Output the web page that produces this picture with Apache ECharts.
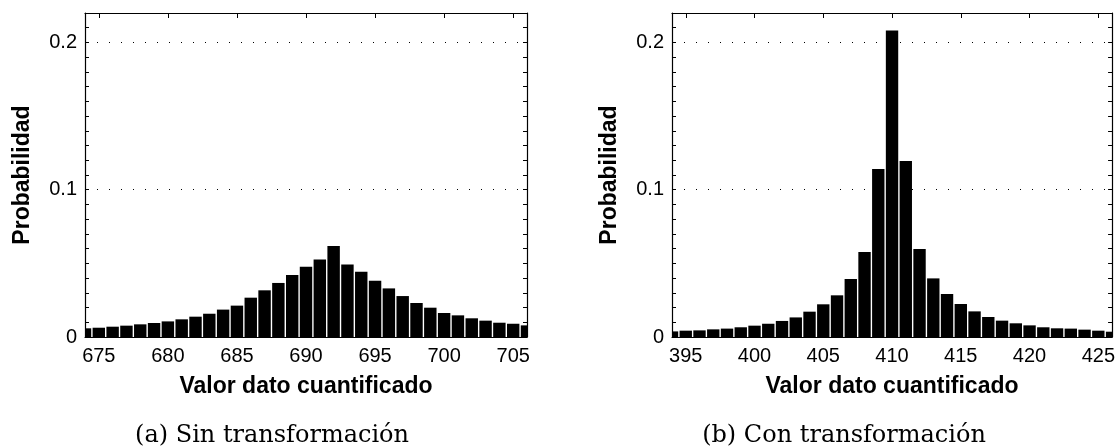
<!DOCTYPE html>
<html>
<head>
<meta charset="utf-8">
<script src="https://cdn.jsdelivr.net/npm/echarts@6/dist/echarts.min.js"></script>
<style>
html,body{margin:0;padding:0;background:#fff;}
#c{width:1118px;height:448px;}
</style>
</head>
<body>
<div id="c"></div>
<script>
// ---- data ----
const leftValues = [674,675,676,677,678,679,680,681,682,683,684,685,686,687,688,689,690,691,692,693,694,695,696,697,698,699,700,701,702,703,704,705,706];
const leftProb = [0.0059,0.0063,0.0070,0.0077,0.0086,0.0095,0.0106,0.0120,0.0138,0.0158,0.0186,0.0213,0.0267,0.0317,0.0367,0.0421,0.0477,0.0527,0.0618,0.0493,0.0443,0.0382,0.0330,0.0278,0.0231,0.0199,0.0163,0.0147,0.0127,0.0111,0.0097,0.0090,0.0079];
const rightValues = [394,395,396,397,398,399,400,401,402,403,404,405,406,407,408,409,410,411,412,413,414,415,416,417,418,419,420,421,422,423,424,425,426];
const rightProb = [0.0038,0.0043,0.0045,0.0052,0.0057,0.0066,0.0077,0.0090,0.0109,0.0133,0.0172,0.0222,0.0283,0.0394,0.0577,0.1140,0.2081,0.1195,0.0597,0.0398,0.0292,0.0224,0.0174,0.0136,0.0111,0.0093,0.0079,0.0066,0.0059,0.0057,0.0050,0.0043,0.0036];
const leftTicks = [675,680,685,690,695,700,705];
const rightTicks = [395,400,405,410,415,420,425];
const yLabelTicks = [0,0.1,0.2];
const xTitle = 'Valor dato cuantificado';
const yTitle = 'Probabilidad';
const captions = ['(a) Sin transformación','(b) Con transformación'];

const FONT = '"Liberation Sans", Arial, sans-serif';
const grids = [
  {left: 85, top: 13, width: 442, height: 324},
  {left: 672, top: 13, width: 442, height: 324}
];
const ranges = [[674,706],[394,426]];
const ticksets = [leftTicks, rightTicks];

const xAxes = [], yAxes = [], series = [];
grids.forEach((g, i) => {
  xAxes.push({
    type: 'value', gridIndex: i, position: 'bottom', min: ranges[i][0], max: ranges[i][1],
    name: xTitle, nameLocation: 'middle', nameGap: 38,
    nameTextStyle: {fontFamily: FONT, fontWeight: 'bold', fontSize: 23, color: '#000'},
    axisLine: {show: true, onZero: false, lineStyle: {color: '#000', width: 1.2}},
    axisTick: {show: true, inside: true, length: 5, customValues: ticksets[i], lineStyle: {color: '#000'}},
    axisLabel: {show: true, customValues: ticksets[i], margin: 9, fontFamily: FONT, fontSize: 20, color: '#000'},
    splitLine: {show: false}
  });
  xAxes.push({
    type: 'value', gridIndex: i, position: 'top', min: ranges[i][0], max: ranges[i][1],
    axisLine: {show: true, onZero: false, lineStyle: {color: '#000', width: 1.2}},
    axisTick: {show: true, inside: true, length: 5, customValues: ticksets[i], lineStyle: {color: '#000'}},
    axisLabel: {show: false},
    splitLine: {show: false}
  });
  // main left y axis with labels + dotted grid
  yAxes.push({
    type: 'value', gridIndex: i, position: 'left', min: 0, max: 0.22, interval: 0.1,
    name: yTitle, nameLocation: 'middle', nameGap: 51,
    nameTextStyle: {fontFamily: FONT, fontWeight: 'bold', fontSize: 23, color: '#000'},
    axisLine: {show: true, onZero: false, lineStyle: {color: '#000', width: 1.2}},
    axisTick: {show: false},
    axisLabel: {show: true, customValues: yLabelTicks, margin: 8, fontFamily: FONT, fontSize: 20, color: '#000',
      formatter: v => (v === 0 ? '0' : String(+v.toFixed(2)))},
    splitLine: {show: true, lineStyle: {color: '#000', width: 1, type: [1, 11]}}
  });
  // minor ticks left
  yAxes.push({
    type: 'value', gridIndex: i, position: 'left', min: 0, max: 0.22, interval: 0.01,
    axisLine: {show: false, onZero: false}, axisLabel: {show: false}, splitLine: {show: false},
    axisTick: {show: true, inside: true, length: 4, lineStyle: {color: '#000'}}
  });
  // right side
  yAxes.push({
    type: 'value', gridIndex: i, position: 'right', min: 0, max: 0.22, interval: 0.01,
    axisLine: {show: true, onZero: false, lineStyle: {color: '#000', width: 1.2}}, axisLabel: {show: false}, splitLine: {show: false},
    axisTick: {show: true, inside: true, length: 4, lineStyle: {color: '#000'}}
  });
});

function renderBar(params, api) {
  const x = api.value(0), y = api.value(1);
  const w = api.size([1, 0])[0] * 0.9;
  const base = api.coord([x, 0]);
  const top = api.coord([x, y]);
  return {
    type: 'rect',
    shape: {x: base[0] - w / 2, y: top[1], width: w, height: base[1] - top[1]},
    style: {fill: '#000'}
  };
}

const sets = [[leftValues, leftProb],[rightValues, rightProb]];
sets.forEach((s, i) => {
  series.push({
    type: 'custom', xAxisIndex: i*2, yAxisIndex: i*3, clip: true, silent: true, animation: false,
    renderItem: renderBar,
    encode: {x: 0, y: 1},
    data: s[0].map((x, k) => [x, s[1][k]])
  });
});

const chart = echarts.init(document.getElementById('c'), null, {renderer: 'canvas'});
chart.setOption({
  animation: false,
  backgroundColor: '#fff',
  grid: grids,
  xAxis: xAxes,
  yAxis: yAxes,
  series: series,
  graphic: [
    {type: 'text', x: 272, y: 436, style: {text: captions[0], font: '24px "DejaVu Serif", serif', fill: '#000', textAlign: 'center', textVerticalAlign: 'middle'}},
    {type: 'text', x: 844, y: 436, style: {text: captions[1], font: '24px "DejaVu Serif", serif', fill: '#000', textAlign: 'center', textVerticalAlign: 'middle'}}
  ]
});
</script>
</body>
</html>
